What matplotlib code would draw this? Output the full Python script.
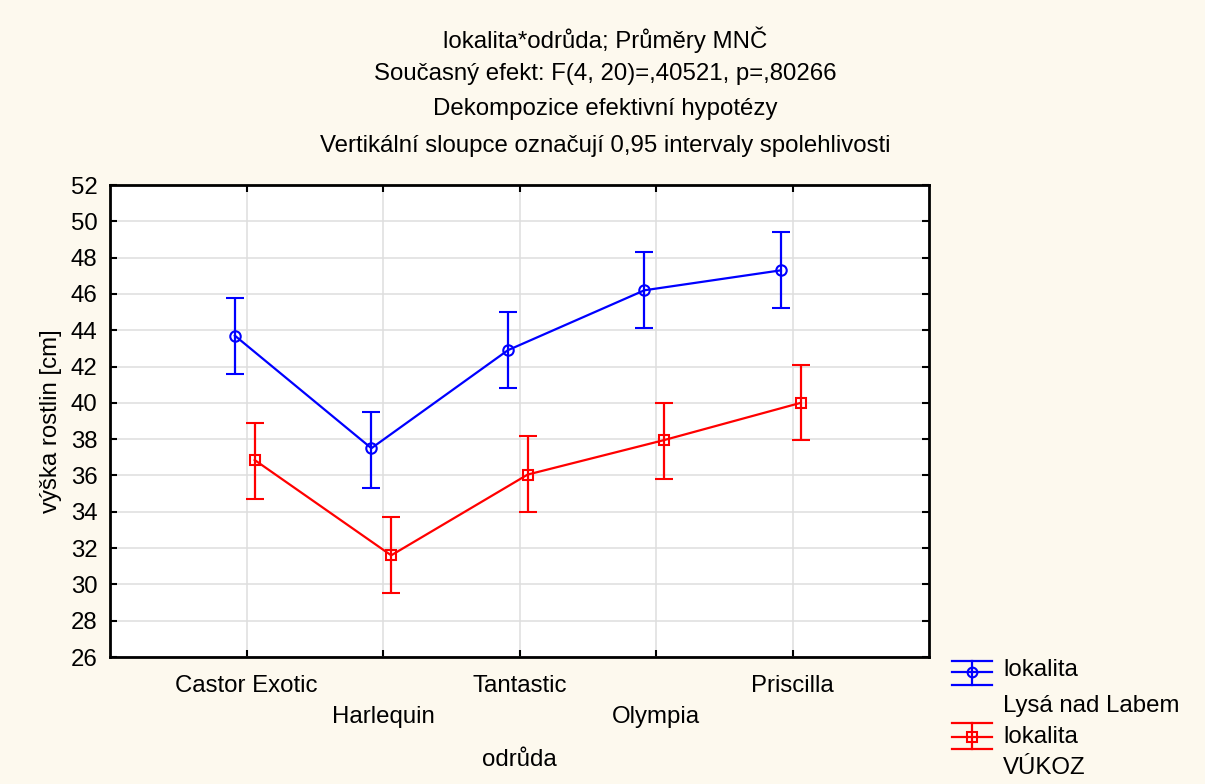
import matplotlib
matplotlib.use("Agg")
import matplotlib.pyplot as plt
from matplotlib.lines import Line2D
import numpy as np

plt.rcParams['font.family'] = ['Liberation Sans', 'DejaVu Sans']

categories = ["Castor Exotic", "Harlequin", "Tantastic", "Olympia", "Priscilla"]
blue_mean = [43.7, 37.5, 42.9, 46.2, 47.3]
blue_lo = [41.6, 35.3, 40.8, 44.1, 45.2]
blue_hi = [45.8, 39.5, 45.0, 48.3, 49.4]
red_mean = [36.85, 31.6, 36.05, 37.95, 40.0]
red_lo = [34.7, 29.5, 34.0, 35.8, 37.95]
red_hi = [38.9, 33.7, 38.2, 40.0, 42.1]
series_names = ["lokalita\nLysá nad Labem", "lokalita\nVÚKOZ"]
yticks = list(range(26, 53, 2))
title_lines = [
    "lokalita*odrůda; Průměry MNČ",
    "Současný efekt: F(4, 20)=,40521, p=,80266",
    "Dekompozice efektivní hypotézy",
    "Vertikální sloupce označují 0,95 intervaly spolehlivosti",
]

BG = "#fdf9ee"
BLUE = "#0000ff"
RED = "#ff0000"
FS = 17.3

fig = plt.figure(figsize=(12.05, 7.84), dpi=100, facecolor=BG)
ax = fig.add_axes([110/1205, 1-657/784, (929-110)/1205, (657-185)/784])
ax.set_facecolor("white")

x = np.arange(len(categories))
off_b, off_r = -0.085, 0.06

def draw(xs, m, lo, hi, color, marker, ms):
    m = np.array(m); lo = np.array(lo); hi = np.array(hi)
    ax.errorbar(xs, m, yerr=[m - lo, hi - m], color=color, lw=1.6,
                elinewidth=1.6, capsize=6.5, capthick=1.6,
                marker=marker, ms=ms, mfc="none", mec=color, mew=1.5, zorder=3)

draw(x + off_b, blue_mean, blue_lo, blue_hi, BLUE, "o", 7.5)
draw(x + off_r, red_mean, red_lo, red_hi, RED, "s", 7)

ax.set_xlim(-1, 5)
ax.set_ylim(26, 52)
ax.set_yticks(yticks)
ax.set_yticklabels([str(t) for t in yticks], fontsize=FS)
ax.set_xticks(x)
ax.set_xticklabels([c if i % 2 == 0 else "\n" + c for i, c in enumerate(categories)],
                   fontsize=FS)
for lab in ax.get_xticklabels():
    lab.set_linespacing(1.55)
ax.tick_params(axis="both", direction="in", length=5, width=1.5,
               top=True, right=True, colors="black")
ax.tick_params(axis="x", pad=13)
ax.tick_params(axis="y", pad=9)
ax.grid(True, color="#dedede", lw=1.1, zorder=0)
ax.set_axisbelow(True)
for s in ax.spines.values():
    s.set_linewidth(2)
    s.set_color("black")

ax.set_xlabel("odrůda", fontsize=FS, labelpad=15)
ax.set_ylabel("výška rostlin [cm]", fontsize=FS, labelpad=6)

ys = [40, 74, 109, 146]
for t, yy in zip(title_lines, ys):
    fig.text(605/1205, 1-yy/784, t, ha="center", va="center", fontsize=FS)

# legend (manual, figure coords)
def fx(px): return px/1205
def fy(py): return 1-py/784

legend_specs = [
    (BLUE, "o", 661, 672, 685, series_names[0], 670, 706),
    (RED, "s", 723, 737, 749, series_names[1], 737, 768),
]
for color, mk, yt, ym, yb, name, y1, y2 in legend_specs:
    for yy in (yt, ym, yb):
        fig.add_artist(Line2D([fx(952), fx(992)], [fy(yy), fy(yy)],
                              transform=fig.transFigure, color=color, lw=1.6))
    fig.add_artist(Line2D([fx(972), fx(972)], [fy(yt), fy(yb)],
                          transform=fig.transFigure, color=color, lw=1.6))
    fig.add_artist(Line2D([fx(972)], [fy(ym)], transform=fig.transFigure,
                          marker=mk, ms=7, mfc="none", mec=color, mew=1.5))
    l1, l2 = name.split("\n")
    fig.text(fx(1003), fy(y1), l1, ha="left", va="center", fontsize=FS)
    fig.text(fx(1003), fy(y2), l2, ha="left", va="center", fontsize=FS)

fig.savefig("out.png", dpi=100, facecolor=BG)
